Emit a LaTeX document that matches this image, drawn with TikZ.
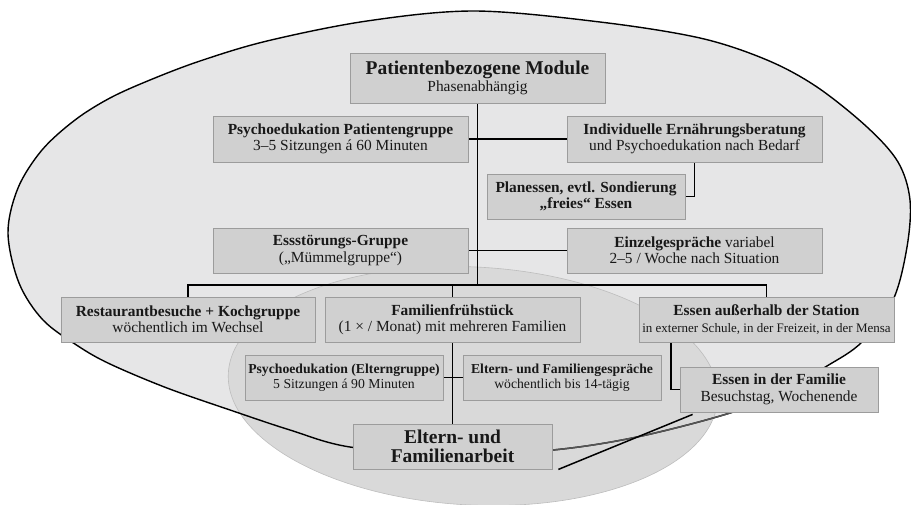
\documentclass[tikz,border=0pt]{standalone}
\usepackage{fontspec}
\setmainfont{Liberation Serif}
\definecolor{outerfill}{HTML}{E6E6E7}
\definecolor{innerfill}{HTML}{D9D9D9}
\definecolor{innerline}{HTML}{BDBDBD}
\definecolor{boxfill}{HTML}{D0D0D0}
\definecolor{boxline}{HTML}{9C9C9C}
\definecolor{textc}{HTML}{181818}
\definecolor{midgray}{HTML}{555555}
\pgfdeclarelayer{bglayer}
\pgfdeclarelayer{connlayer}
\pgfsetlayers{bglayer,connlayer,main}
\tikzset{
  box/.style={draw=boxline, fill=boxfill, line width=0.8pt, align=center, inner sep=0pt,
    text=textc, font=\fontsize{15.4}{16.5}\selectfont},
  wide/.style={minimum width=255pt, minimum height=46pt},
  narrow/.style={minimum width=198pt, minimum height=45pt},
  smallbox/.style={font=\fontsize{13.7}{15.5}\selectfont},
  conn/.style={draw=black, line width=1.5pt},
}
\newcommand{\bigtxt}{\fontsize{19.5}{18.5}\selectfont\bfseries}
\newcommand{\outlinepath}{plot[smooth cycle, tension=0.55] coordinates {
 (475,11) (600,22) (700,38) (767,60) (817,87) (867,127) (898,162) (910,200) (907,247)
 (893,300) (862,342) (827,366) (780,392) (730,413) (637,437) (553,450) (453,455)
 (350,447) (290,430) (233,411) (167,388) (110,364) (78,346) (43,320) (19,283) (8,233) (18,188)
 (42,150) (75,120) (110,98) (150,80) (200,61) (267,41) (367,21)}}
\begin{document}
\begin{tikzpicture}[x=1pt,y=-1pt]
\useasboundingbox (0,0) rectangle (911,504);
\begin{pgfonlayer}{bglayer}
% outer region
\fill[outerfill] \outlinepath;
% inner region
\draw[innerline, fill=innerfill, line width=0.6pt, rotate around={-3:(473,386)}]
  (473,386) ellipse [x radius=245pt, y radius=119pt];
% outer outline
\draw[black, line width=1.4pt] \outlinepath;
\begin{scope}
  \clip (553,402) rectangle (736,466);
  \draw[midgray, line width=1.5pt] \outlinepath;
\end{scope}
\end{pgfonlayer}

% nodes
\node[box, minimum width=255pt, minimum height=50pt] (pm) at (477.5,78)
  {{\bigtxt Patientenbezogene Module}\\Phasenabhängig};
\node[box, wide] (pp) at (340.5,139)
  {\textbf{Psychoedukation Patientengruppe}\\3–5 Sitzungen á 60 Minuten};
\node[box, wide] (ie) at (694.5,139)
  {\textbf{Individuelle Ernährungsberatung}\\und Psychoedukation nach Bedarf};
\node[box, narrow] (pl) at (586,196.5)
  {\textbf{Planessen, evtl. Sondierung}\\\textbf{„freies“ Essen}};
\node[box, wide, minimum height=45pt] (eg) at (340.5,250.5)
  {\textbf{Essstörungs-Gruppe}\\(„Mümmelgruppe“)};
\node[box, wide, minimum height=45pt] (ez) at (694.5,250.5)
  {\textbf{Einzelgespräche} variabel\\2–5 / Woche nach Situation};
\node[box, minimum width=254pt, minimum height=45pt] (rb) at (188,319.5)
  {\textbf{Restaurantbesuche + Kochgruppe}\\wöchentlich im Wechsel};
\node[box, wide, minimum height=45pt] (ff) at (452.5,319.5)
  {\textbf{Familienfrühstück}\\(1 × / Monat) mit mehreren Familien};
\node[box, wide, minimum height=45pt] (ea) at (766.5,319.5)
  {\textbf{Essen außerhalb der Station}\\{\fontsize{13}{15}\selectfont in externer Schule, in der Freizeit, in der Mensa}};
\node[box, narrow, smallbox] (pe) at (344,377.5)
  {\textbf{Psychoedukation (Elterngruppe)}\\5 Sitzungen á 90 Minuten};
\node[box, narrow, smallbox] (fg) at (562,377.5)
  {\textbf{Eltern- und Familiengespräche}\\wöchentlich bis 14-tägig};
\node[box, narrow] (ef) at (779,389.5)
  {\textbf{Essen in der Familie}\\Besuchstag, Wochenende};
\node[box, minimum width=199pt, minimum height=45pt, font=\bigtxt] (fa) at (452.5,446.5)
  {Eltern- und\\Familienarbeit};

% connectors (behind boxes)
\begin{pgfonlayer}{connlayer}
\coordinate (bus) at (477.5,285);
\draw[conn] (pm.south) -- (bus);
\draw[conn] (rb.north) |- (bus) -| (ea.north);
\draw[conn] (ff.north) -- (ff.north |- bus);
\draw[conn] (pp.east) -- (ie.west);
\draw[conn] (eg.east) -- (ez.west);
\draw[conn] (ie.south) |- (pl.east);
\draw[conn] (ff.south) -- (fa.north);
\draw[conn] (pe.east) -- (fg.west);
\draw[conn] ([xshift=-95.5pt]ea.south) |- (ef.west);
\draw[conn] ([xshift=6pt]fa.south east) -- ([xshift=13pt,yshift=-2pt]ef.south west);
\end{pgfonlayer}
\end{tikzpicture}
\end{document}
